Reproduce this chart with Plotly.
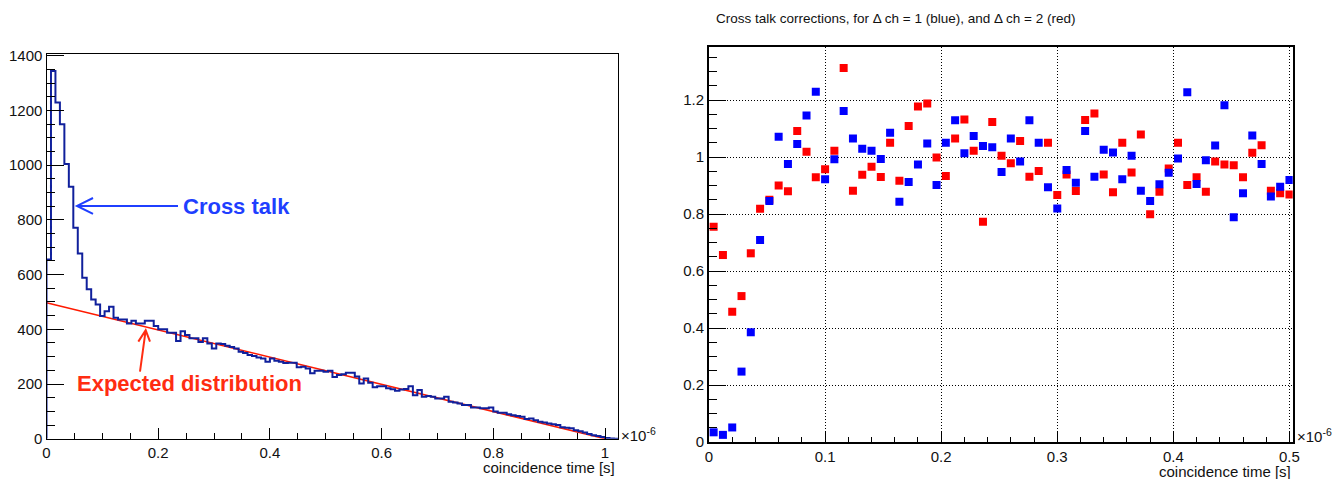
import numpy as np
import plotly.graph_objects as go

# ---------------- data ----------------
# left: coincidence-time histogram, 128 bins of 8 ns (x in units of 1e-6 s)
bin_width = 0.008
hist_counts = [655, 1344, 1229, 1150, 1004, 921, 771, 677, 588, 546,
               509, 491, 449, 466, 482, 442, 436, 436, 421, 431,
               421, 421, 431, 431, 412, 400, 400, 387, 387, 357,
               393, 379, 367, 367, 354, 367, 348, 330, 348, 346,
               340, 335, 330, 318, 313, 306, 302, 297, 293, 281,
               293, 285, 281, 277, 278, 278, 261, 263, 257, 239,
               248, 248, 245, 248, 226, 233, 236, 241, 241, 227,
               202, 220, 205, 188, 192, 192, 184, 181, 175, 180,
               182, 192, 159, 178, 153, 156, 153, 147, 147, 153,
               135, 132, 129, 123, 123, 114, 114, 111, 111, 114,
               99, 95, 95, 89, 86, 83, 80, 72, 74, 67,
               62, 59, 56, 53, 50, 42, 40, 38, 31, 27,
               23, 17, 13, 10, 6, 3, 1, 0]
expected_x = [0.0, 1.0]
expected_y = [497, 0]

# right: cross talk corrections per 8 ns bin
blue_corr = [0.034, 0.025, 0.051, 0.247, 0.385, 0.709, 0.846, 1.071, 0.975, 1.046,
             1.146, 1.229, 0.922, 0.992, 1.161, 1.065, 1.029, 1.022, 0.993, 1.085,
             0.843, 0.912, 0.974, 1.047, 0.902, 1.050, 1.129, 1.013, 1.074, 1.039,
             1.034, 0.947, 1.065, 0.984, 1.129, 1.050, 0.894, 0.819, 0.954, 0.910,
             1.091, 0.931, 1.025, 1.016, 0.922, 1.004, 0.882, 0.846, 0.904, 0.945,
             0.995, 1.227, 0.905, 0.989, 1.040, 1.182, 0.789, 0.873, 1.075, 0.975,
             0.861, 0.896, 0.919]
red_corr = [0.755, 0.656, 0.457, 0.512, 0.662, 0.818, 0.850, 0.900, 0.880, 1.091,
            1.018, 0.929, 0.957, 1.022, 1.312, 0.882, 0.938, 0.966, 0.930, 1.050,
            0.917, 1.109, 1.177, 1.188, 0.998, 0.933, 1.065, 1.132, 1.022, 0.773,
            1.123, 1.004, 0.978, 1.056, 0.931, 0.951, 1.050, 0.867, 0.939, 0.881,
            1.130, 1.153, 0.939, 0.876, 1.050, 0.946, 1.079, 0.799, 0.878, 0.960,
            1.050, 0.902, 0.929, 0.878, 0.984, 0.974, 0.971, 0.929, 1.015, 1.041,
            0.882, 0.873, 0.868]

left_yticks = [0, 200, 400, 600, 800, 1000, 1200, 1400]
left_xticks = [0, 0.2, 0.4, 0.6, 0.8, 1]
right_yticks = [0, 0.2, 0.4, 0.6, 0.8, 1, 1.2]
right_xticks = [0, 0.1, 0.2, 0.3, 0.4, 0.5]

# ---------------- derived ----------------
n_bins = len(hist_counts)
edges = np.arange(n_bins + 1) * bin_width
step_x = [0.0] + list(edges[:-1]) + [edges[-1], edges[-1]]
step_y = [0] + hist_counts + [hist_counts[-1], 0]
centers = (np.arange(len(blue_corr)) + 0.5) * bin_width

W, H = 1343, 479
def px(x): return x / W
def py(y): return 1 - y / H

FONT = "Liberation Sans, Arial, Helvetica, sans-serif"
DARKBLUE = "#10209c"

fig = go.Figure()

fig.add_trace(go.Scatter(x=expected_x, y=expected_y, mode="lines",
                         line=dict(color="#ff1a00", width=1.6),
                         xaxis="x", yaxis="y", showlegend=False, hoverinfo="skip"))
fig.add_trace(go.Scatter(x=step_x, y=step_y, mode="lines", line_shape="hv",
                         line=dict(color=DARKBLUE, width=2),
                         xaxis="x", yaxis="y", showlegend=False))
fig.add_trace(go.Scatter(x=centers, y=red_corr, mode="markers",
                         marker=dict(symbol="square", size=8, color="#ff0000", line=dict(width=0)),
                         xaxis="x2", yaxis="y2", showlegend=False))
fig.add_trace(go.Scatter(x=centers, y=blue_corr, mode="markers",
                         marker=dict(symbol="square", size=8, color="#0000ff", line=dict(width=0)),
                         xaxis="x2", yaxis="y2", showlegend=False))

tickfont = dict(family=FONT, size=15, color="#111")

common = dict(showline=True, mirror=True, linecolor="#000", zeroline=False,
              ticks="inside", tickcolor="#000", tickfont=tickfont, automargin=False)

fig.update_layout(
    width=W, height=H,
    margin=dict(l=0, r=0, t=0, b=0),
    paper_bgcolor="white", plot_bgcolor="white",
    font=dict(family=FONT, color="#111"),
    xaxis=dict(domain=[px(46.5), px(618.4)], range=[0, 1.024], anchor="y",
               tickvals=left_xticks, ticktext=[f"{v:g}" for v in left_xticks],
               ticklen=11, tickwidth=1, linewidth=1.3, showgrid=False,
               minor=dict(ticks="inside", dtick=0.05, tick0=0, ticklen=6, tickwidth=1,
                          tickcolor="#000", showgrid=False),
               **common),
    yaxis=dict(domain=[py(438.7), py(54)], range=[0, 1406.5], anchor="x",
               tickvals=left_yticks, ticklen=17, tickwidth=1, linewidth=1.3, showgrid=False,
               minor=dict(ticks="inside", dtick=50, tick0=0, ticklen=8, tickwidth=1,
                          tickcolor="#000", showgrid=False),
               **common),
    xaxis2=dict(domain=[px(709), px(1292.7)], range=[0, 0.5028], anchor="y2",
                tickvals=right_xticks, ticktext=[f"{v:g}" for v in right_xticks],
                ticklen=10, tickwidth=1, linewidth=2,
                showgrid=True, gridcolor="#000", gridwidth=1, griddash="1px,2px",
                minor=dict(ticks="inside", dtick=0.02, tick0=0, ticklen=5, tickwidth=1,
                           tickcolor="#000", showgrid=False),
                **common),
    yaxis2=dict(domain=[py(442), py(46.7)], range=[0, 1.387], anchor="x2",
                tickvals=right_yticks, ticktext=[f"{v:g}" for v in right_yticks],
                ticklen=17, tickwidth=1, linewidth=2,
                showgrid=True, gridcolor="#000", gridwidth=1, griddash="1px,2px",
                minor=dict(ticks="inside", dtick=0.05, tick0=0, ticklen=8, tickwidth=1,
                           tickcolor="#000", showgrid=False),
                **common),
)

# arrows (annotation graphics) in left-plot data coordinates
blue_arrow = dict(type="path", xref="x", yref="y",
                  path="M 0.2355,851 L 0.0546,851 M 0.0833,880 L 0.0546,851 L 0.0833,822",
                  line=dict(color="#1f3fff", width=2))
red_arrow = dict(type="path", xref="x", yref="y",
                 path="M 0.1674,245 L 0.1776,397 M 0.1644,355 L 0.1776,397 L 0.1853,355",
                 line=dict(color="#ff2d12", width=2))
fig.update_layout(shapes=[blue_arrow, red_arrow])

annots = [
    dict(text="<b>Cross talk</b>", x=px(181), y=py(206), xanchor="left", yanchor="middle",
         font=dict(family=FONT, size=22, color="#1f3fff")),
    dict(text="<b>Expected distribution</b>", x=px(75), y=py(383), xanchor="left", yanchor="middle",
         font=dict(family=FONT, size=22, color="#ff2d12")),
    dict(text="Cross talk corrections, for \u0394 ch = 1 (blue), and \u0394 ch = 2 (red)",
         x=px(714), y=py(18), xanchor="left", yanchor="middle",
         font=dict(family=FONT, size=13.5, color="#111")),
    dict(text="coincidence time [s]", x=px(617), y=py(467), xanchor="right", yanchor="middle",
         font=dict(family=FONT, size=15, color="#111")),
    dict(text="coincidence time [s]", x=px(1292.5), y=py(471), xanchor="right", yanchor="middle",
         font=dict(family=FONT, size=15, color="#111")),
    dict(text="\u00d710<sup>-6</sup>", x=px(619), y=py(434), xanchor="left", yanchor="middle",
         font=dict(family=FONT, size=15, color="#111")),
    dict(text="\u00d710<sup>-6</sup>", x=px(1295), y=py(435), xanchor="left", yanchor="middle",
         font=dict(family=FONT, size=15, color="#111")),
]
for a in annots:
    a.update(xref="paper", yref="paper", showarrow=False)
fig.update_layout(annotations=annots)

fig.write_html("out.html",
               config={"displayModeBar": False},
               post_script="document.body.style.margin='0';document.body.style.padding='0';"
                           "document.documentElement.style.overflow='hidden';")
